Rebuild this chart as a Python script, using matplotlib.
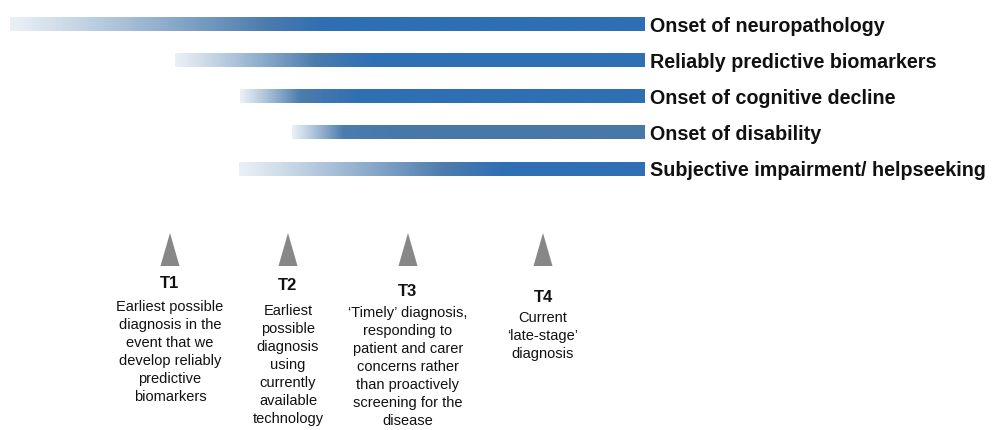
import numpy as np
import matplotlib
matplotlib.use('Agg')
import matplotlib.pyplot as plt
from matplotlib.colors import to_rgb

plt.rcParams['font.family'] = ['Liberation Sans', 'DejaVu Sans']

# timeline bars (x in timeline units, right end shared)
bar_labels = ['Onset of neuropathology',
              'Reliably predictive biomarkers',
              'Onset of cognitive decline',
              'Onset of disability',
              'Subjective impairment/ helpseeking']
bar_start = [10, 175, 240, 292, 239]
bar_solid = [265, 315, 300, 343, 445]
bar_end = 645

# diagnosis time points
t_names = ['T1', 'T2', 'T3', 'T4']
t_pos = [170, 288, 408, 543]
t_text = ['Earliest possible\ndiagnosis in the\nevent that we\ndevelop reliably\npredictive\nbiomarkers',
          'Earliest\npossible\ndiagnosis\nusing\ncurrently\navailable\ntechnology',
          '\u2018Timely\u2019 diagnosis,\nresponding to\npatient and carer\nconcerns rather\nthan proactively\nscreening for the\ndisease',
          'Current\n\u2018late-stage\u2019\ndiagnosis']

fig = plt.figure(figsize=(9.92, 4.31), dpi=100)
ax = fig.add_axes([0, 0, 1, 1])
ax.set_xlim(0, 992)
ax.set_ylim(431, 0)
ax.axis('off')

pale = np.array(to_rgb('#eaf0f6'))
mid = np.array(to_rgb('#4c7cad'))
blue = np.array(to_rgb('#2f6fb4'))
grey_blue = np.array(to_rgb('#4878a8'))

bar_y0 = 25
bar_gap = 36.2
bar_h = 13.5

for i, lab in enumerate(bar_labels):
    y = bar_y0 + i * bar_gap
    x0, x1 = bar_start[i], bar_solid[i]
    xs = np.linspace(x0, bar_end, 600)
    cols = np.zeros((1, len(xs), 3))
    for j, x in enumerate(xs):
        if x < x1:
            t = (x - x0) / (x1 - x0)
            c = pale + (mid - pale) * t ** 1.1
        else:
            end_col = grey_blue if i == 3 else blue
            t = min((x - x1) / 60.0, 1.0)
            c = mid + (end_col - mid) * t
        cols[0, j] = c
    ax.imshow(cols, extent=(x0, bar_end, y + bar_h / 2, y - bar_h / 2),
              aspect='auto', interpolation='bilinear', zorder=2)
    ax.text(bar_end + 5, y + 1, lab, fontsize=14.2, fontweight='bold',
            color='#111111', va='center', ha='left')

ax.set_xlim(0, 992)
ax.set_ylim(431, 0)

tri_top = 234
tri_bot = 267
tri_w = 19
label_y = [284, 286, 292, 298]
text_y = [300, 304, 306, 311]

for i, name in enumerate(t_names):
    x = t_pos[i]
    ax.fill([x - tri_w / 2, x + tri_w / 2, x], [tri_bot, tri_bot, tri_top],
            color='#878787', lw=0, zorder=2)
    ax.text(x, label_y[i], name, fontsize=12, fontweight='bold',
            color='#111111', ha='center', va='center')
    ax.text(x, text_y[i], t_text[i], fontsize=10.5, color='#111111',
            ha='center', va='top', linespacing=1.37)

fig.savefig('out.png', dpi=100)
